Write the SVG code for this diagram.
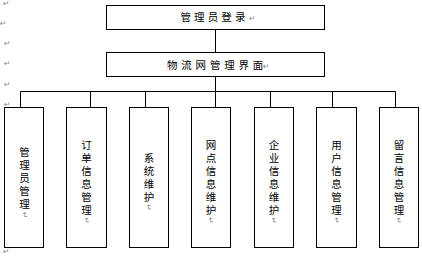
<svg xmlns="http://www.w3.org/2000/svg" width="422" height="256" viewBox="0 0 422 256">
<style>
.box{fill:#fff;stroke:#000;stroke-width:1}
.ln{stroke:#000;stroke-width:1;fill:none}
.t{font-family:"Noto Sans CJK SC","Noto Sans",sans-serif;font-size:10.5px;fill:#000}
.vt{font-family:"Noto Sans CJK SC","Noto Sans",sans-serif;font-size:10.5px;fill:#000;text-anchor:middle}
.m{font-family:"DejaVu Sans",sans-serif;font-size:8px;fill:#888}
</style>
<rect width="422" height="256" fill="#fff"/>
<g id="margin-marks">
<text class="m" x="3" y="6">↵</text>
<text class="m" x="0" y="26">↵</text>
<text class="m" x="4" y="46">↵</text>
<text class="m" x="4" y="66">↵</text>
<text class="m" x="4" y="87">↵</text>
<text class="m" x="4" y="107">↵</text>
<text class="m" x="3" y="254">↵</text>
</g>
<g id="connectors">
<path class="ln" d="M215.5 29.5V52.5M215.5 76.5V91.5M20.5 91.5H395.5M20.5 91.5V107.5M90.5 91.5V107.5M145.5 91.5V107.5M215.5 91.5V107.5M270.5 91.5V107.5M332.5 91.5V107.5M395.5 91.5V107.5"/>
</g>
<g id="login">
<rect class="box" x="106.5" y="5.5" width="218" height="24"/>
<text class="t" x="180.5 194.1 207.7 221.3 234.9" y="21">管理员登录</text>
<text class="m" x="249" y="21">↵</text>
</g>
<g id="main">
<rect class="box" x="106.5" y="52.5" width="218" height="24"/>
<text class="t" x="167 181.3 195.6 209.9 224.2 238.5 252.8" y="69">物流网管理界面</text>
<text class="m" x="263" y="69">↵</text>
</g>
<g id="n1">
<rect class="box" x="4.5" y="107.5" width="39" height="140"/>
<text class="vt" x="24.5 24.5 24.5 24.5 24.5" y="155.5 168.5 181.5 194.5 207.5">管理员管理</text>
<text class="m" transform="translate(24.5 215) rotate(90)" text-anchor="middle" dy="3">↵</text>
</g>
<g id="n2">
<rect class="box" x="66.5" y="107.5" width="40" height="140"/>
<text class="vt" x="86.5 86.5 86.5 86.5 86.5 86.5" y="149 162 175 188 201 214">订单信息管理</text>
<text class="m" transform="translate(86.5 220.5) rotate(90)" text-anchor="middle" dy="3">↵</text>
</g>
<g id="n3">
<rect class="box" x="129.5" y="107.5" width="39" height="140"/>
<text class="vt" x="149 149 149 149" y="162 175 188 201">系统维护</text>
<text class="m" transform="translate(149 207.5) rotate(90)" text-anchor="middle" dy="3">↵</text>
</g>
<g id="n4">
<rect class="box" x="191.5" y="107.5" width="39" height="140"/>
<text class="vt" x="211 211 211 211 211 211" y="149 162 175 188 201 214">网点信息维护</text>
<text class="m" transform="translate(211 220.5) rotate(90)" text-anchor="middle" dy="3">↵</text>
</g>
<g id="n5">
<rect class="box" x="254.5" y="107.5" width="39" height="140"/>
<text class="vt" x="274 274 274 274 274 274" y="149 162 175 188 201 214">企业信息维护</text>
<text class="m" transform="translate(274 220.5) rotate(90)" text-anchor="middle" dy="3">↵</text>
</g>
<g id="n6">
<rect class="box" x="316.5" y="107.5" width="40" height="140"/>
<text class="vt" x="336.5 336.5 336.5 336.5 336.5 336.5" y="149 162 175 188 201 214">用户信息管理</text>
<text class="m" transform="translate(336.5 220.5) rotate(90)" text-anchor="middle" dy="3">↵</text>
</g>
<g id="n7">
<rect class="box" x="379.5" y="107.5" width="39" height="140"/>
<text class="vt" x="399 399 399 399 399 399" y="149 162 175 188 201 214">留言信息管理</text>
<text class="m" transform="translate(399 220.5) rotate(90)" text-anchor="middle" dy="3">↵</text>
</g>
</svg>
